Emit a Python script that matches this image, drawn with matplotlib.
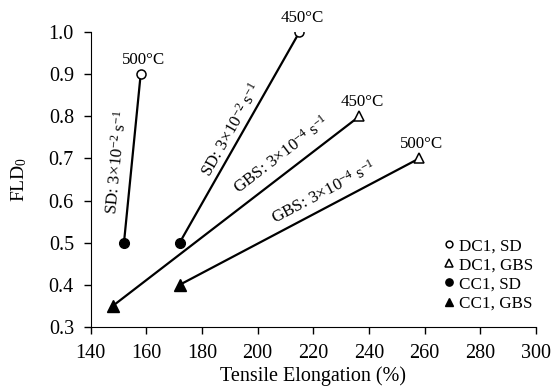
import numpy as np
import matplotlib
matplotlib.use("Agg")
import matplotlib.pyplot as plt

plt.rcParams['font.family'] = ['Liberation Serif', 'DejaVu Serif']
plt.rcParams['mathtext.fontset'] = 'custom'
plt.rcParams['mathtext.rm'] = 'Liberation Serif'
plt.rcParams['mathtext.it'] = 'Liberation Serif:italic'

# data: each pair joins a CC1 point to a DC1 point
temps = ["500°C", "450°C", "450°C", "500°C"]
cc1_x = [152, 172, 148, 172]
cc1_y = [0.50, 0.50, 0.35, 0.40]
dc1_x = [158, 215, 236.5, 258]
dc1_y = [0.90, 1.00, 0.80, 0.70]
mech = ["SD", "SD", "GBS", "GBS"]
rates = ["SD: 3×10$^{-2}$ s$^{-1}$", "SD: 3×10$^{-2}$ s$^{-1}$",
         "GBS: 3×10$^{-4}$ s$^{-1}$", "GBS: 3×10$^{-4}$ s$^{-1}$"]
# bottom-left corner of each rate label (data coords)
label_x = [150.9, 184.0, 194.2, 207.0]
label_y = [0.565, 0.650, 0.607, 0.537]

fig = plt.figure(figsize=(5.59, 3.92), dpi=100)
ax = fig.add_axes([0.162, 0.166, 0.797, 0.752])
ax.set_xlim(140, 300)
ax.set_ylim(0.3, 1.0)

for i in range(4):
    ax.plot([cc1_x[i], dc1_x[i]], [cc1_y[i], dc1_y[i]], color='black', lw=1.6, zorder=2)

sd = [i for i in range(4) if mech[i] == "SD"]
gbs = [i for i in range(4) if mech[i] == "GBS"]
ax.plot([dc1_x[i] for i in sd], [dc1_y[i] for i in sd], 'o', ls='none', ms=6.5,
        mfc='white', mec='black', mew=1.1, label="DC1, SD", zorder=3)
ax.plot([dc1_x[i] for i in gbs], [dc1_y[i] for i in gbs], '^', ls='none', ms=7,
        mfc='white', mec='black', mew=1.1, label="DC1, GBS", zorder=3)
ax.plot([cc1_x[i] for i in sd], [cc1_y[i] for i in sd], 'o', ls='none', ms=7,
        color='black', label="CC1, SD", zorder=3)
ax.plot([cc1_x[i] for i in gbs], [cc1_y[i] for i in gbs], '^', ls='none', ms=8,
        color='black', label="CC1, GBS", zorder=3)

for i in range(4):
    ax.annotate(temps[i], (dc1_x[i], dc1_y[i]), xytext=(2, 4.5), textcoords='offset points',
                ha='center', va='bottom', fontsize=12.2)
    p1 = ax.transData.transform((cc1_x[i], cc1_y[i]))
    p2 = ax.transData.transform((dc1_x[i], dc1_y[i]))
    ang = np.degrees(np.arctan2(p2[1] - p1[1], p2[0] - p1[0]))
    ax.text(label_x[i], label_y[i], rates[i], rotation=ang, rotation_mode='anchor',
            ha='left', va='bottom', fontsize=12.3)

ax.set_xticks(np.arange(140, 301, 20))
ax.set_yticks(np.arange(0.3, 1.01, 0.1))
ax.set_yticklabels([f"{v:.1f}" for v in np.arange(0.3, 1.01, 0.1)])
ax.tick_params(direction='out', length=5, width=1, labelsize=14.5, colors='black')
ax.tick_params(axis='x', pad=7)
ax.tick_params(axis='y', pad=7)
ax.spines['top'].set_visible(False)
ax.spines['right'].set_visible(False)
ax.set_xlabel("Tensile Elongation (%)", fontsize=14.5, labelpad=3)
ax.set_ylabel("FLD$_0$", fontsize=14, labelpad=14)

ax.legend(loc='lower right', frameon=False, fontsize=12.3, handletextpad=0.0,
          handlelength=1.2, labelspacing=0.18, markerscale=0.75,
          bbox_to_anchor=(1.028, 0.0))

fig.savefig("out.png", dpi=100)
